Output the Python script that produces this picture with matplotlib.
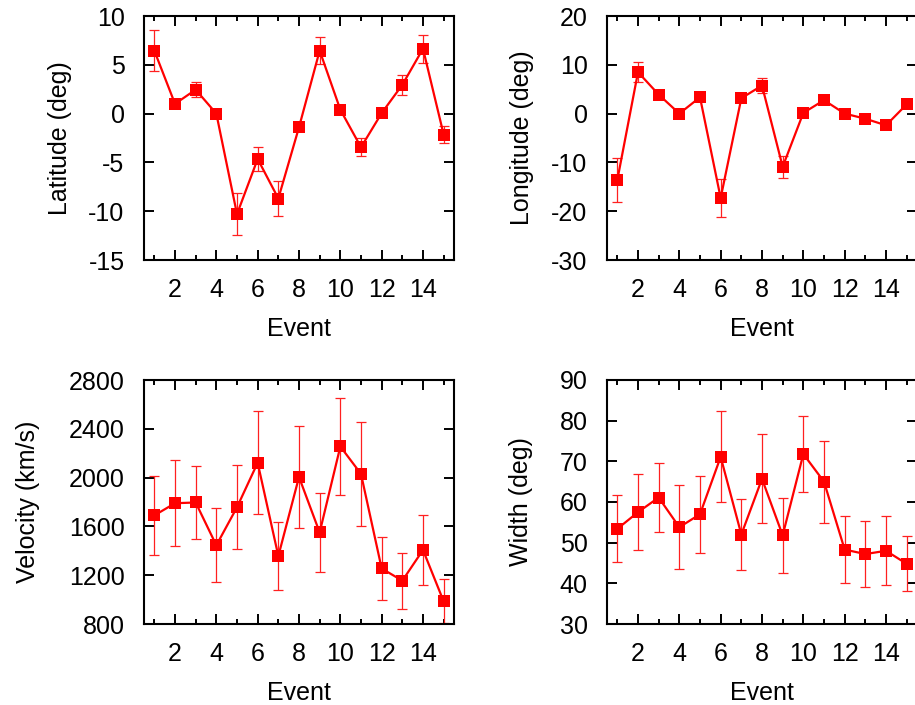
import matplotlib
matplotlib.use("Agg")
import matplotlib.pyplot as plt
from matplotlib.ticker import MultipleLocator
import numpy as np

plt.rcParams['font.family'] = ['Liberation Sans', 'DejaVu Sans']
plt.rcParams['axes.unicode_minus'] = False

events = list(range(1, 16))

latitude = [6.45, 1.0, 2.45, 0.0, -10.3, -4.65, -8.7, -1.4, 6.45, 0.4, -3.45, 0.05, 2.95, 6.65, -2.15]
latitude_err = [2.1, 0.0, 0.75, 0.0, 2.15, 1.25, 1.75, 0.0, 1.4, 0.0, 0.9, 0.0, 1.05, 1.45, 0.85]

longitude = [-13.6, 8.5, 3.9, 0.0, 3.35, -17.3, 3.15, 5.75, -10.9, 0.15, 2.75, 0.0, -1.05, -2.4, 1.9]
longitude_err = [4.6, 2.0, 0.0, 0.0, 0.0, 3.8, 0.0, 1.5, 2.3, 0.0, 0.0, 0.0, 0.0, 0.0, 0.0]

velocity = [1690, 1790, 1796, 1445, 1757, 2122, 1357, 2005, 1550, 2255, 2030, 1255, 1155, 1407, 985]
velocity_err = [323, 351, 297, 303, 344, 423, 282, 415, 325, 401, 426, 258, 231, 286, 180]

width = [53.4, 57.5, 61.1, 53.8, 57.0, 71.1, 52.0, 65.7, 51.8, 71.8, 65.0, 48.3, 47.2, 48.0, 44.8]
width_err = [8.2, 9.4, 8.5, 10.3, 9.5, 11.2, 8.65, 10.9, 9.25, 9.4, 10.1, 8.15, 8.1, 8.45, 6.8]

panels = [
    (latitude, latitude_err, 'Latitude (deg)', (-15, 10), 5),
    (longitude, longitude_err, 'Longitude (deg)', (-30, 20), 10),
    (velocity, velocity_err, 'Velocity (km/s)', (800, 2800), 400),
    (width, width_err, 'Width (deg)', (30, 90), 10),
]

W, H = 915, 705
fig = plt.figure(figsize=(W / 100, H / 100), dpi=100)

# axes boxes in pixels: left, top, right, bottom, ylabel x (axes fraction)
boxes = [
    (144, 16, 454, 260, -0.232),
    (607, 16, 917, 260, -0.236),
    (144, 380, 454, 624, -0.336),
    (607, 380, 917, 624, -0.239),
]

FS = 18
for (vals, errs, ylabel, ylim, ystep), (l, t, r, b, lx) in zip(panels, boxes):
    ax = fig.add_axes([l / W, 1 - b / H, (r - l) / W, (b - t) / H])
    ax.errorbar(events, vals, yerr=errs, fmt='none', ecolor='#ff2020',
                elinewidth=0.9, capsize=3.6, capthick=0.9, zorder=2)
    ax.plot(events, vals, color='#ff0000', lw=1.6, marker='s',
            markersize=8.5, markeredgewidth=0, zorder=3, clip_on=False)
    ax.set_xlim(0.5, 15.5)
    ax.set_ylim(*ylim)
    ax.xaxis.set_major_locator(MultipleLocator(2))
    ax.xaxis.set_minor_locator(MultipleLocator(1))
    ax.yaxis.set_major_locator(MultipleLocator(ystep))
    ax.tick_params(axis='both', which='major', direction='in', length=7,
                   width=1.4, top=True, right=True, labelsize=FS)
    ax.tick_params(axis='x', which='major', pad=13)
    ax.tick_params(axis='x', which='minor', direction='in', length=3.5,
                   width=1.4, top=True, bottom=True)
    ax.tick_params(axis='y', which='major', pad=14)
    for s in ax.spines.values():
        s.set_linewidth(1.5)
    ax.set_xlabel('Event', fontsize=FS, labelpad=11)
    ax.set_ylabel(ylabel, fontsize=FS)
    ax.yaxis.set_label_coords(lx, 0.5)

fig.savefig('out.png', dpi=100)
